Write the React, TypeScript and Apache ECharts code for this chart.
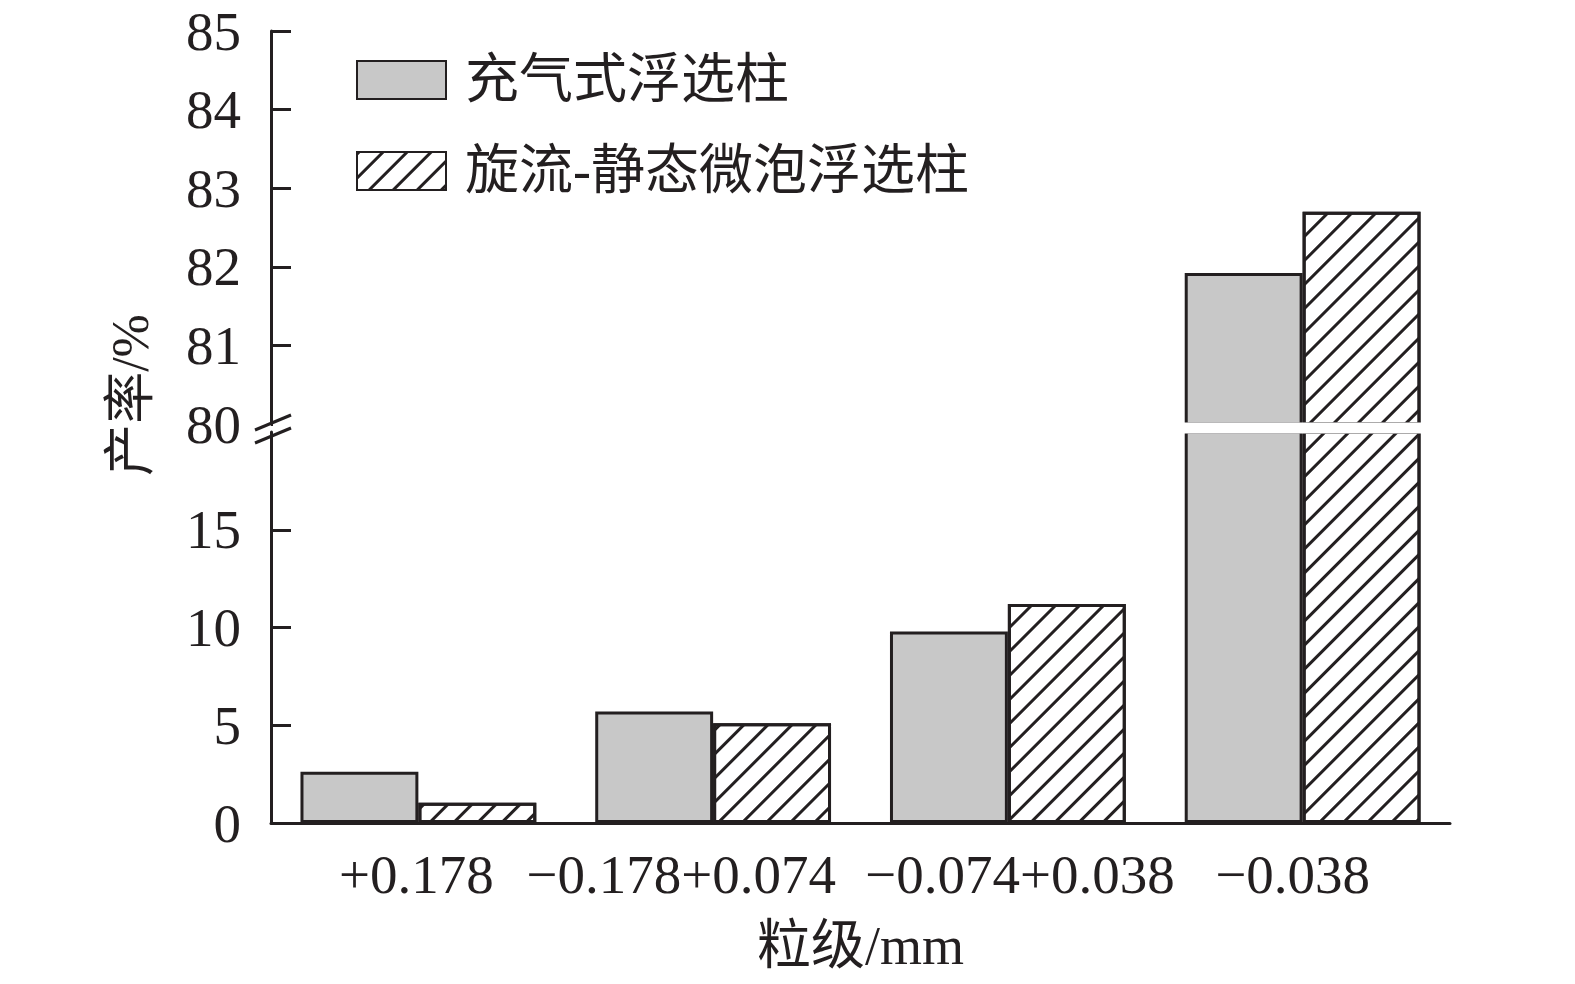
import React, { useEffect, useRef } from "react";
import * as echarts from "echarts";

const categories = ["+0.178", "\u22120.178+0.074", "\u22120.074+0.038", "\u22120.038"];
const seriesNames = ["充气式浮选柱", "旋流-静态微泡浮选柱"];
const aerated = [2.62, 5.7, 9.8, 81.92];
const cyclone = [1.03, 5.1, 11.2, 82.7];
const upperTicks = [80, 81, 82, 83, 84, 85];
const lowerTicks = [0, 5, 10, 15];
const breakValue = 80;

const SERIF = "'Liberation Serif', 'Times New Roman', serif";
const CJK = "'Liberation Serif', 'Noto Sans CJK SC', serif";
const INK = "#231f20";

const hatch = {
  symbol: "rect",
  symbolSize: 1,
  color: INK,
  backgroundColor: "#ffffff",
  dashArrayX: [1, 0],
  dashArrayY: [3, 14],
  rotation: -Math.PI / 4,
};

export default function App() {
  const ref = useRef<HTMLDivElement>(null);
  useEffect(() => {
    const chart = echarts.init(ref.current!, null, { renderer: "svg" });
    const upper = (arr: number[]) => arr.map((v) => (v >= breakValue ? v : null));
    const grayStyle = { color: "#c8c8c8", borderColor: INK, borderWidth: 3 };
    const hatchStyle = { color: "#ffffff", borderColor: INK, borderWidth: 3, decal: hatch };
    const axisLine = { show: true, lineStyle: { color: INK, width: 3 } };
    const labelFont = { fontFamily: SERIF, fontSize: 55, color: INK };
    chart.setOption({
      animation: false,
      aria: { enabled: false, decal: { show: false } },
      legend: {
        orient: "vertical",
        left: 351,
        top: 48,
        itemWidth: 89,
        itemHeight: 38,
        itemGap: 37,
        icon: "rect",
        textStyle: { fontFamily: CJK, fontSize: 54, lineHeight: 50, color: INK, padding: [0, 0, 0, 14] },
        data: seriesNames,
      },
      grid: [
        { left: 271, right: 125, top: 31, height: 393 },
        { left: 271, right: 125, top: 432, height: 391 },
      ],
      xAxis: [
        {
          type: "category",
          gridIndex: 0,
          data: categories,
          axisLine: { show: false },
          axisTick: { show: false },
          axisLabel: { show: false },
        },
        {
          type: "category",
          gridIndex: 1,
          data: categories,
          axisLine,
          axisTick: { show: false },
          axisLabel: {
            interval: 0,
            ...labelFont,
            margin: 24,
            formatter: (v: string, i: number) => `{s${i}|${v}}`,
            rich: {
              s0: { ...labelFont, padding: [0, 4, 0, 0] },
              s1: { ...labelFont, padding: [0, 64, 0, 0] },
              s2: { ...labelFont, padding: [0, 0, 0, 24] },
              s3: { ...labelFont, padding: [0, 20, 0, 0] },
            },
          },
          name: "粒级/mm",
          nameLocation: "middle",
          nameGap: 96,
          nameTextStyle: { fontFamily: CJK, fontSize: 54, color: INK },
        },
      ],
      yAxis: [
        {
          type: "value",
          gridIndex: 0,
          min: upperTicks[0],
          max: upperTicks[upperTicks.length - 1],
          interval: 1,
          splitLine: { show: false },
          axisLine,
          axisTick: { show: true, inside: true, length: 20, lineStyle: { color: INK, width: 3 } },
          axisLabel: { ...labelFont, margin: 30 },
        },
        {
          type: "value",
          gridIndex: 1,
          min: 0,
          max: 20,
          interval: 5,
          splitLine: { show: false },
          axisLine,
          axisTick: {
            show: true,
            inside: true,
            length: 20,
            customValues: lowerTicks,
            lineStyle: { color: INK, width: 3 },
          },
          axisLabel: { ...labelFont, margin: 30, customValues: lowerTicks },
        },
      ],
      series: [
        {
          name: seriesNames[0],
          type: "bar",
          xAxisIndex: 0,
          yAxisIndex: 0,
          data: upper(aerated),
          barGap: "0%",
          barCategoryGap: "20%",
          itemStyle: grayStyle,
          clip: true,
        },
        {
          name: seriesNames[1],
          type: "bar",
          xAxisIndex: 0,
          yAxisIndex: 0,
          data: upper(cyclone),
          barGap: "0%",
          barCategoryGap: "20%",
          itemStyle: hatchStyle,
          clip: true,
        },
        {
          name: seriesNames[0],
          type: "bar",
          xAxisIndex: 1,
          yAxisIndex: 1,
          data: aerated,
          barGap: "0%",
          barCategoryGap: "20%",
          itemStyle: grayStyle,
          clip: true,
        },
        {
          name: seriesNames[1],
          type: "bar",
          xAxisIndex: 1,
          yAxisIndex: 1,
          data: cyclone,
          barGap: "0%",
          barCategoryGap: "20%",
          itemStyle: hatchStyle,
          clip: true,
        },
      ],
      graphic: [
        {
          type: "rect",
          z: 100,
          shape: { x: 273, y: 422.5, width: 1200, height: 11 },
          style: { fill: "#ffffff", stroke: null },
        },
        {
          type: "line",
          z: 101,
          shape: { x1: 255, y1: 430, x2: 291, y2: 415 },
          style: { stroke: INK, lineWidth: 3 },
        },
        {
          type: "line",
          z: 101,
          shape: { x1: 255, y1: 443, x2: 291, y2: 428 },
          style: { stroke: INK, lineWidth: 3 },
        },
        {
          type: "text",
          x: 130,
          y: 395,
          rotation: Math.PI / 2,
          style: {
            text: "产率/%",
            fontFamily: CJK,
            fontSize: 52,
            fill: INK,
            align: "center",
            verticalAlign: "middle",
          },
        },
      ],
    });
    return () => chart.dispose();
  }, []);
  return (
    <div
      ref={ref}
      style={{ position: "fixed", left: 0, top: 0, width: "1575px", height: "984px", background: "#fff" }}
    />
  );
}
